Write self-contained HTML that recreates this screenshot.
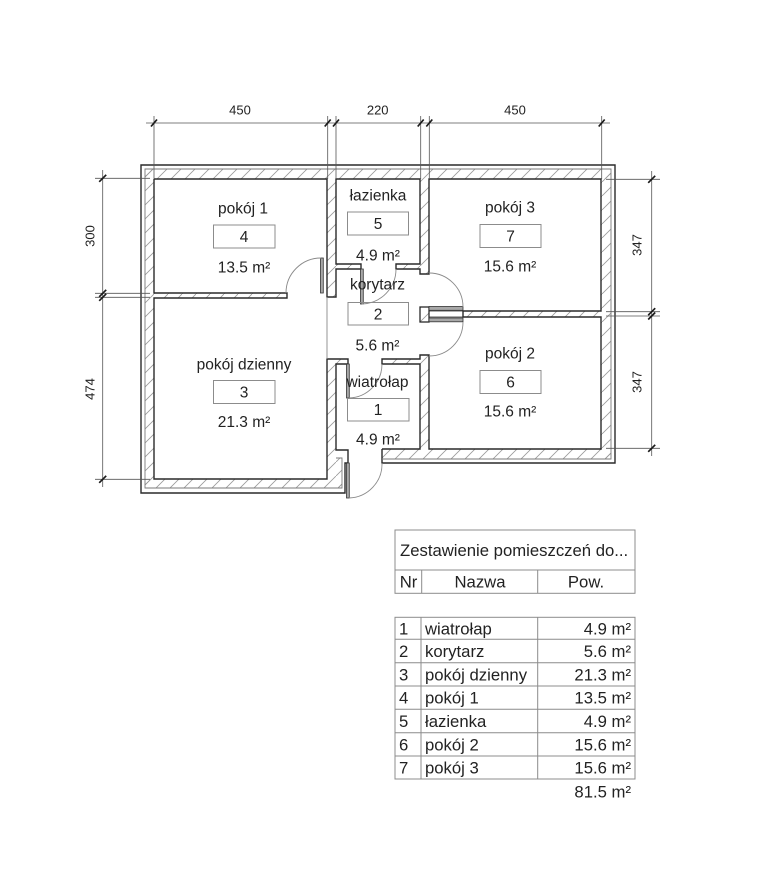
<!DOCTYPE html>
<html>
<head>
<meta charset="utf-8">
<style>
  html,body{margin:0;padding:0;background:#fff;}
  svg{display:block;}
  text{font-family:"Liberation Sans",Arial,sans-serif;fill:#222;}
</style>
</head>
<body>
<svg width="768" height="885" viewBox="0 0 768 885" xmlns="http://www.w3.org/2000/svg">
  <defs>
    <pattern id="h" patternUnits="userSpaceOnUse" width="14" height="14">
      <line x1="-1" y1="15" x2="15" y2="-1" stroke="#9a9a9a" stroke-width="0.8"/>
    </pattern>
  </defs>
  <rect width="768" height="885" fill="#fff"/>

  <!-- hatched walls -->
  <g fill="url(#h)">
    <rect x="145" y="169" width="466" height="10"/>
    <rect x="145" y="169" width="9" height="319"/>
    <rect x="601" y="169" width="10" height="290"/>
    <rect x="145" y="479" width="197" height="9"/>
    <rect x="336" y="458" width="6" height="30"/>
    <rect x="382" y="449" width="229" height="10"/>
    <rect x="154" y="293" width="133" height="5"/>
    <rect x="327" y="179" width="9" height="118"/>
    <rect x="336" y="264" width="25" height="5"/>
    <rect x="396" y="264" width="24" height="5"/>
    <rect x="420" y="179" width="9" height="95"/>
    <rect x="420" y="307" width="9" height="15"/>
    <rect x="463" y="311" width="138" height="6"/>
    <rect x="336" y="359" width="12" height="5"/>
    <rect x="382" y="359" width="38" height="5"/>
    <rect x="420" y="355" width="9" height="94"/>
    <rect x="327" y="359" width="9" height="120"/>
  </g>

  <!-- wall outlines -->
  <g fill="none" stroke-linejoin="miter">
    <path d="M348,463 H345 V493 H141 V165 H615 V463 H382 V449" stroke="#2a2a2a" stroke-width="1.4"/>
    <path d="M336,458 H342 V488 H145 V169 H611 V459 H382" stroke="#7a7a7a" stroke-width="0.9"/>
    <path d="M154,179 H327 V297 H336 V269 H361 V264 H336 V179 H420 V264 H396 V269 H420 V274 H429 V179 H601 V311 H463 V317 H601 V449 H429 V355 H420 V359 H382 V364 H420 V449 H382" stroke="#2a2a2a" stroke-width="1.4"/>
    <path d="M154,179 V293 H287 V298 H154 V479 H327 V359 H348 V364 H336 V450 H348 V463" stroke="#2a2a2a" stroke-width="1.4"/>
    <path d="M327,297 V359" stroke="#888" stroke-width="0.9"/>
    <rect x="420" y="307" width="9" height="15" stroke="#2a2a2a" stroke-width="1.3"/>
    <path d="M463,311 H429 M463,317 H429" stroke="#2a2a2a" stroke-width="0.8"/>
  </g>

  <!-- door leaves -->
  <g fill="#a8a8a8" stroke="#333" stroke-width="0.8">
    <rect x="320.5" y="258" width="2.8" height="35"/>
    <rect x="360.5" y="269" width="2.8" height="35"/>
    <rect x="429" y="306.5" width="34" height="3.8"/>
    <rect x="429" y="318" width="34" height="3.8"/>
    <rect x="346.5" y="364" width="2.8" height="34"/>
    <rect x="346.5" y="463" width="2.8" height="35"/>
  </g>

  <!-- door swings -->
  <g fill="none" stroke="#8a8a8a" stroke-width="0.9">
    <path d="M321,258 A35,35 0 0 0 286,293"/>
    <path d="M362,304 A35,35 0 0 0 396,269"/>
    <path d="M463,307 A34,34 0 0 0 429,273"/>
    <path d="M463,322 A34,34 0 0 1 429,356"/>
    <path d="M349,398 A34,34 0 0 0 382,364"/>
    <path d="M349,498 A34,34 0 0 0 382,463"/>
  </g>

  <!-- dimension lines -->
  <g stroke="#555" stroke-width="0.8" fill="none">
    <path d="M146,123 H610"/>
    <path d="M154,116 V179 M327.7,116 V179 M336,116 V179 M420.7,116 V179 M429.3,116 V179 M601.7,116 V179"/>
    <path d="M102.7,170 V487"/>
    <path d="M95,178.3 H150 M95,293.3 H150 M95,297.3 H150 M95,479.3 H150"/>
    <path d="M651.7,171 V456"/>
    <path d="M606,179.3 H660 M606,311.7 H660 M606,316 H660 M606,448.3 H660"/>
  </g>
  <g stroke="#1a1a1a" stroke-width="1.7" fill="none">
    <path d="M151,126.5 L157,119.5 M324.7,126.5 L330.7,119.5 M333,126.5 L339,119.5 M417.7,126.5 L423.7,119.5 M426.3,126.5 L432.3,119.5 M598.7,126.5 L604.7,119.5"/>
    <path d="M99.2,181.8 L106.2,174.8 M99.2,296.8 L106.2,289.8 M99.2,300.8 L106.2,293.8 M99.2,482.8 L106.2,475.8"/>
    <path d="M648.2,182.8 L655.2,175.8 M648.2,315.2 L655.2,308.2 M648.2,319.5 L655.2,312.5 M648.2,451.8 L655.2,444.8"/>
  </g>
  <g font-size="13" text-anchor="middle">
    <text x="240" y="114.5">450</text>
    <text x="377.7" y="114.5">220</text>
    <text x="515" y="114.5">450</text>
    <text transform="translate(94.5,236) rotate(-90)">300</text>
    <text transform="translate(94.5,389) rotate(-90)">474</text>
    <text transform="translate(641.5,245) rotate(-90)">347</text>
    <text transform="translate(641.5,382) rotate(-90)">347</text>
  </g>

  <!-- room tags -->
  <g fill="none" stroke="#8c8c8c" stroke-width="1">
    <rect x="213.5" y="225" width="61.5" height="23"/>
    <rect x="347.5" y="212" width="61" height="23"/>
    <rect x="480" y="224.5" width="61" height="23"/>
    <rect x="348" y="302.5" width="60.5" height="22.5"/>
    <rect x="213.5" y="380.5" width="61.5" height="23"/>
    <rect x="347.5" y="398.5" width="61.5" height="22.5"/>
    <rect x="480" y="370.5" width="61" height="23"/>
  </g>
  <g font-size="15.5" text-anchor="middle">
    <text x="243" y="213.5">pokój 1</text>
    <text x="244" y="242">4</text>
    <text x="244" y="272.5">13.5 m²</text>

    <text x="378" y="200.5">łazienka</text>
    <text x="378" y="229">5</text>
    <text x="378" y="260.5">4.9 m²</text>

    <text x="510" y="212.5">pokój 3</text>
    <text x="510.5" y="241.5">7</text>
    <text x="510" y="271.5">15.6 m²</text>

    <text x="377.5" y="289.5">korytarz</text>
    <text x="378" y="319.5">2</text>
    <text x="377.5" y="350.5">5.6 m²</text>

    <text x="244" y="369.5">pokój dzienny</text>
    <text x="244" y="397.5">3</text>
    <text x="244" y="427">21.3 m²</text>

    <text x="377.5" y="387">wiatrołap</text>
    <text x="378" y="415">1</text>
    <text x="378" y="444.5">4.9 m²</text>

    <text x="510" y="358.5">pokój 2</text>
    <text x="510.5" y="387.5">6</text>
    <text x="510" y="416.5">15.6 m²</text>
  </g>

  <!-- schedule table -->
  <g fill="none" stroke="#8c8c8c" stroke-width="1">
    <rect x="395" y="530" width="240" height="63.3"/>
    <path d="M395,570 H635 M421.7,570 V593.3 M537.7,570 V593.3"/>
    <rect x="395" y="617.3" width="240" height="161.7"/>
    <path d="M395,639.3 H635 M395,662.7 H635 M395,686 H635 M395,709.3 H635 M395,732.7 H635 M395,756 H635"/>
    <path d="M421,617.3 V779 M537.7,617.3 V779"/>
  </g>
  <g font-size="16.7">
    <text x="400" y="556">Zestawienie pomieszczeń do...</text>
    <text x="408.5" y="587.5" text-anchor="middle">Nr</text>
    <text x="480" y="587.5" text-anchor="middle">Nazwa</text>
    <text x="586" y="587.5" text-anchor="middle">Pow.</text>

    <text x="399" y="634.3">1</text>
    <text x="425" y="634.3">wiatrołap</text>
    <text x="631" y="634.3" text-anchor="end">4.9 m²</text>

    <text x="399" y="657">2</text>
    <text x="425" y="657">korytarz</text>
    <text x="631" y="657" text-anchor="end">5.6 m²</text>

    <text x="399" y="680.3">3</text>
    <text x="425" y="680.3">pokój dzienny</text>
    <text x="631" y="680.3" text-anchor="end">21.3 m²</text>

    <text x="399" y="703.7">4</text>
    <text x="425" y="703.7">pokój 1</text>
    <text x="631" y="703.7" text-anchor="end">13.5 m²</text>

    <text x="399" y="727">5</text>
    <text x="425" y="727">łazienka</text>
    <text x="631" y="727" text-anchor="end">4.9 m²</text>

    <text x="399" y="750.3">6</text>
    <text x="425" y="750.3">pokój 2</text>
    <text x="631" y="750.3" text-anchor="end">15.6 m²</text>

    <text x="399" y="773.5">7</text>
    <text x="425" y="773.5">pokój 3</text>
    <text x="631" y="773.5" text-anchor="end">15.6 m²</text>

    <text x="631" y="797.5" text-anchor="end">81.5 m²</text>
  </g>
</svg>
</body>
</html>
